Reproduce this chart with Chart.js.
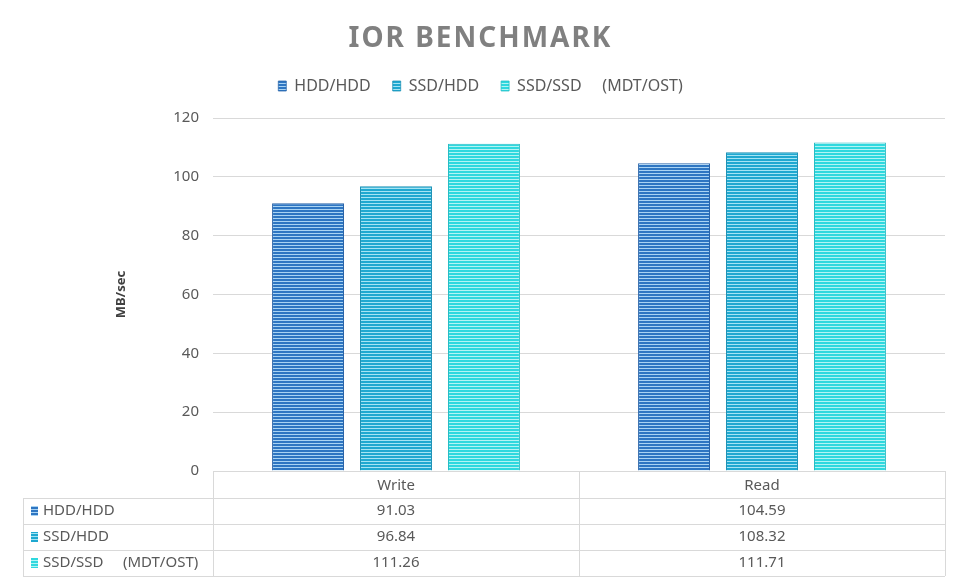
<!DOCTYPE html>
<html>
<head>
<meta charset="utf-8">
<script src="https://cdn.jsdelivr.net/npm/chart.js@4"></script>
<style>
  html, body { margin: 0; padding: 0; background: #fff; }
</style>
</head>
<body>
<canvas id="iorChart" width="961" height="583"></canvas>
<script>
// Données
const categories = ['Write', 'Read'];
const seriesNames = ['HDD/HDD', 'SSD/HDD', 'SSD/SSD     (MDT/OST)'];
const hddHdd = [91.03, 104.59];
const ssdHdd = [96.84, 108.32];
const ssdSsd = [111.26, 111.71];
const yMin = 0, yMax = 120, yStep = 20;

const seriesValues = [hddHdd, ssdHdd, ssdSsd];
const darkColors = ['#2e76c2', '#1fa8d0', '#2fd8de'];
const lightColors = ['#a9d3f3', '#a4e4f4', '#b2f4f4'];
const edgeColors = ['#2a64a8', '#1b90b4', '#27bcc4'];

const canvas = document.getElementById('iorChart');
const ctx = canvas.getContext('2d');

// motif rayé horizontal
function stripes(dark, light) {
    const c = document.createElement('canvas');
    c.width = 4; c.height = 3;
    const g = c.getContext('2d');
    g.fillStyle = light;
    g.fillRect(0, 0, 4, 3);
    g.fillStyle = dark;
    g.fillRect(0, 0, 4, 2);
    return ctx.createPattern(c, 'repeat');
}
const patterns = darkColors.map((d, i) => stripes(d, lightColors[i]));

const gridColor = '#d9d9d9';
const textColor = '#595959';
const fontFamily = "'Noto Sans', 'Open Sans', sans-serif";

// titre avec espacement des lettres
const titlePlugin = {
    id: 'spacedTitle',
    afterDraw(chart) {
        const c = chart.ctx;
        c.save();
        c.font = 'bold 28px ' + fontFamily;
        c.fillStyle = '#808080';
        c.textAlign = 'center';
        c.textBaseline = 'middle';
        c.letterSpacing = '2px';
        c.fillText('IOR BENCHMARK', chart.width / 2, 39);
        c.restore();
    }
};

// espace sous la légende
const legendSpacing = {
    id: 'legendSpacing',
    beforeInit(chart) {
        const fit = chart.legend.fit;
        chart.legend.fit = function () {
            fit.bind(this)();
            this.height += 14;
        };
    }
};

// tableau de données sous le graphique
const tablePlugin = {
    id: 'dataTable',
    afterDraw(chart) {
        const c = chart.ctx;
        const area = chart.chartArea;
        const x = chart.scales.x;
        const top = area.bottom;
        const headerH = 27, rowH = 26;
        const tableLeft = 23;
        const mid = (x.getPixelForValue(0) + x.getPixelForValue(1)) / 2;
        const bottom = top + headerH + rowH * seriesNames.length;

        c.save();
        c.strokeStyle = gridColor;
        c.lineWidth = 1;
        c.beginPath();
        // lignes horizontales
        c.moveTo(area.left, top + 0.5); c.lineTo(area.right, top + 0.5);
        for (let r = 0; r <= seriesNames.length; r++) {
            const y = Math.round(top + headerH + r * rowH) + 0.5;
            c.moveTo(tableLeft, y); c.lineTo(area.right, y);
        }
        // lignes verticales
        [area.left, mid, area.right].forEach((px) => {
            const xx = Math.round(px) + 0.5;
            c.moveTo(xx, top); c.lineTo(xx, bottom);
        });
        c.moveTo(tableLeft + 0.5, top + headerH); c.lineTo(tableLeft + 0.5, bottom);
        c.stroke();

        c.font = '15px ' + fontFamily;
        c.fillStyle = textColor;
        c.textBaseline = 'middle';
        seriesNames.forEach((name, r) => {
            const yc = top + headerH + r * rowH + rowH / 2;
            c.fillStyle = patterns[r];
            c.fillRect(tableLeft + 8, yc - 5, 7, 10);
            c.fillStyle = textColor;
            c.textAlign = 'left';
            c.fillText(name, tableLeft + 20, yc);
            c.textAlign = 'center';
            seriesValues[r].forEach((v, i) => {
                c.fillText(v.toFixed(2), x.getPixelForValue(i), yc);
            });
        });
        c.restore();
    }
};

const chart = new Chart(ctx, {
    type: 'bar',
    data: {
        labels: categories,
        datasets: seriesNames.map((name, i) => ({
            label: name,
            data: seriesValues[i],
            backgroundColor: patterns[i],
            borderColor: edgeColors[i],
            borderWidth: { left: 1, right: 1, top: 1, bottom: 0 },
            categoryPercentage: 0.721,
            barPercentage: 0.818,
        })),
    },
    options: {
        responsive: false,
        animation: false,
        layout: { padding: { left: 16, right: 16, top: 56, bottom: 7 } },
        plugins: {
            title: { display: false },
            tooltip: { enabled: false },
            legend: {
                position: 'top',
                labels: {
                    boxWidth: 8,
                    boxHeight: 10,
                    padding: 22,
                    color: textColor,
                    font: { family: fontFamily, size: 16 },
                },
            },
        },
        scales: {
            x: {
                grid: { display: false },
                border: { display: false },
                ticks: { color: textColor, font: { family: fontFamily, size: 15 }, padding: -2 },
                afterFit(scale) { scale.height = 105; },
            },
            y: {
                min: yMin,
                max: yMax,
                ticks: { stepSize: yStep, color: textColor, font: { family: fontFamily, size: 15 }, padding: 14 },
                grid: { color: gridColor, drawTicks: false },
                border: { display: false },
                title: {
                    display: true,
                    text: 'MB/sec',
                    color: '#404040',
                    font: { family: fontFamily, size: 13, weight: 'bold' },
                    padding: { top: 97, bottom: 0 },
                },
                afterFit(scale) { scale.width = 197; },
            },
        },
    },
    plugins: [titlePlugin, legendSpacing, tablePlugin],
});
</script>
</body>
</html>
